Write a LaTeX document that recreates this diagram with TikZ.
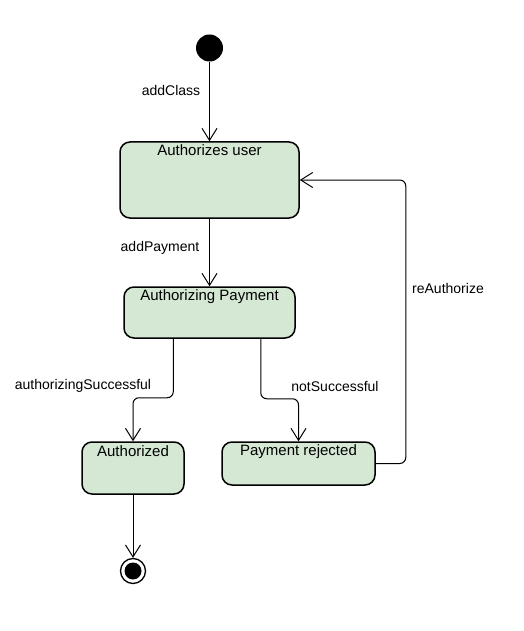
\documentclass[tikz,border=0pt]{standalone}
\usepackage{fontspec}
\setmainfont{Liberation Sans}
\usetikzlibrary{arrows.meta}
\definecolor{stfill}{HTML}{D5E8D4}
\tikzset{
  statebox/.style={draw=black, fill=stfill, line width=1.5pt, rounded corners=10pt, inner sep=0pt},
  titletext/.style={font=\fontsize{15}{17}\selectfont, inner sep=0pt, anchor=center},
  edgetext/.style={font=\fontsize{14}{16}\selectfont, inner sep=0pt, anchor=center},
  arr/.style={draw=black, line width=1pt, rounded corners=6pt, -{Straight Barb[length=12pt, width=15pt, line width=1pt]}},
  initstate/.style={circle, fill=black, minimum size=27pt, inner sep=0pt},
  finalstate/.style={circle, draw=black, fill=white, line width=1.3pt, minimum size=25pt, inner sep=0pt,
    path picture={\fill[black] (path picture bounding box.center) circle (8.5pt);}}
}
\begin{document}
\begin{tikzpicture}[x=1pt, y=-1pt]
\useasboundingbox (0,0) rectangle (523,631);
% states
\node[initstate] (init) at (209.5,48) {};
\node[statebox, minimum width=179pt, minimum height=76pt] (b1) at (209.5,180) {};
\node[statebox, minimum width=171pt, minimum height=51pt] (b2) at (209.5,312.5) {};
\node[statebox, minimum width=102pt, minimum height=52pt] (b3) at (133,468) {};
\node[statebox, minimum width=153pt, minimum height=43pt] (b4) at (298.5,463.5) {};
\node[finalstate] (fin) at (133,571) {};
% titles
\node[titletext] (t1) at ([yshift=-9pt]b1.north) {Authorizes user};
\node[titletext] (t2) at ([yshift=-10pt]b2.north) {Authorizing Payment};
\node[titletext] (t3) at ([yshift=-10pt]b3.north) {Authorized};
\node[titletext] (t4) at ([yshift=-10pt]b4.north) {Payment rejected};
% connectors
\draw[arr] (init) -- (b1);
\draw[arr] (b1) -- (b2);
\draw[arr] ([xshift=50pt]b2.south west) -- ++(0,59) -| (b3.north);
\draw[arr] ([xshift=-35pt]b2.south east) -- ++(0,60) -| (b4.north);
\draw[arr] (b4.east) -- ++(30,0) |- (b1.east);
\draw[arr] (b3.south) -- (fin);
% edge labels
\node[edgetext] (l1) at (171,90) {addClass};
\node[edgetext] (l2) at (160,248) {addPayment};
\node[edgetext] (l3) at (448,288) {reAuthorize};
\node[edgetext] (l4) at (83,386) {authorizingSuccessful};
\node[edgetext] (l5) at (335,386) {notSuccessful};
\end{tikzpicture}
\end{document}
